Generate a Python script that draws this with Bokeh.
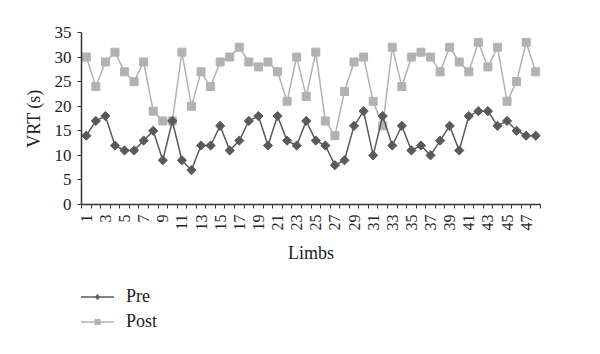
import math
from bokeh.plotting import figure
from bokeh.layouts import column
from bokeh.models import FixedTicker, Legend, LegendItem, Range1d
from bokeh.embed import file_html
from bokeh.resources import INLINE

limbs = list(range(1, 49))
pre = [14, 17, 18, 12, 11, 11, 13, 15, 9, 17, 9, 7, 12, 12, 16, 11, 13, 17, 18, 12,
       18, 13, 12, 17, 13, 12, 8, 9, 16, 19, 10, 18, 12, 16, 11, 12, 10, 13, 16, 11,
       18, 19, 19, 16, 17, 15, 14, 14]
post = [30, 24, 29, 31, 27, 25, 29, 19, 17, 17, 31, 20, 27, 24, 29, 30, 32, 29, 28, 29,
        27, 21, 30, 22, 31, 17, 14, 23, 29, 30, 21, 16, 32, 24, 30, 31, 30, 27, 32, 29,
        27, 33, 28, 32, 21, 25, 33, 27]
x_labels = [str(i) for i in range(1, 49, 2)]
y_ticks = [0, 5, 10, 15, 20, 25, 30, 35]
series_names = ["Pre", "Post"]

FONT = "Liberation Serif"
PRE_C = "#5a5a5a"
POST_C = "#b2b2b2"
TXT = "#222222"
AX = "#333333"

p = figure(width=600, height=270, output_backend="svg", toolbar_location=None,
           x_range=Range1d(0.5, 48.5), y_range=Range1d(0, 35),
           min_border_left=81, min_border_right=60, min_border_top=32,
           min_border_bottom=66)
p.outline_line_color = None
p.grid.visible = False

p.line(limbs, post, line_color=POST_C, line_width=1.5)
p.scatter(limbs, post, marker="square", size=8, fill_color=POST_C, line_color=POST_C)
p.line(limbs, pre, line_color=PRE_C, line_width=1.5)
p.scatter(limbs, pre, marker="square", size=6.5, angle=math.pi / 4,
          fill_color=PRE_C, line_color=PRE_C)

xa = p.xaxis[0]
xa.ticker = FixedTicker(ticks=list(range(1, 49, 2)),
                        minor_ticks=[i + 0.5 for i in range(0, 49)])
xa.major_label_overrides = {i: s for i, s in zip(range(1, 49, 2), x_labels)}
xa.major_label_orientation = math.pi / 2
xa.major_tick_in = 0
xa.major_tick_out = 0
xa.minor_tick_in = 0
xa.minor_tick_out = 4
xa.minor_tick_line_color = AX
xa.axis_line_color = AX
xa.axis_line_width = 1.5
xa.axis_label = "Limbs"
xa.axis_label_text_font = FONT
xa.axis_label_text_font_size = "18px"
xa.axis_label_text_font_style = "normal"
xa.axis_label_text_color = TXT
xa.axis_label_standoff = 9
xa.major_label_text_font = FONT
xa.major_label_text_font_size = "16px"
xa.major_label_text_color = TXT
xa.major_label_standoff = 6

ya = p.yaxis[0]
ya.ticker = FixedTicker(ticks=y_ticks)
ya.minor_tick_line_color = None
ya.major_tick_in = 0
ya.major_tick_out = 4
ya.major_tick_line_color = AX
ya.axis_line_color = AX
ya.axis_line_width = 1.5
ya.axis_label = "VRT (s)"
ya.axis_label_text_font = FONT
ya.axis_label_text_font_size = "18px"
ya.axis_label_text_font_style = "normal"
ya.axis_label_text_color = TXT
ya.axis_label_standoff = 8
ya.major_label_text_font = FONT
ya.major_label_text_font_size = "17px"
ya.major_label_text_color = TXT
ya.major_label_standoff = 6

# legend panel below the chart (its frame is aligned with the chart's frame)
q = figure(width=600, height=84, output_backend="svg", toolbar_location=None,
           x_range=Range1d(0, 1), y_range=Range1d(0, 1),
           x_axis_type=None, y_axis_type=None,
           min_border_left=0, min_border_right=0, min_border_top=0,
           min_border_bottom=0)
q.outline_line_color = None
q.grid.visible = False
# legend-only renderers with a point outside the visible range
ql_pre = q.line([-5, -4], [-5, -4], line_color=PRE_C, line_width=1.5)
qs_pre = q.scatter([-5], [-5], marker="diamond", size=7,
                   fill_color=PRE_C, line_color=PRE_C)
ql_post = q.line([-5, -4], [-5, -4], line_color=POST_C, line_width=1.5)
qs_post = q.scatter([-5], [-5], marker="square", size=5,
                    fill_color=POST_C, line_color=POST_C)

legend = Legend(items=[LegendItem(label=series_names[0], renderers=[ql_pre, qs_pre]),
                       LegendItem(label=series_names[1], renderers=[ql_post, qs_post])],
                orientation="vertical", location=(-1, 22),
                label_text_font=FONT, label_text_font_size="18px",
                label_text_color=TXT, label_height=13,
                glyph_width=34, glyph_height=13, spacing=4, padding=0,
                margin=0, label_standoff=12, border_line_color=None,
                background_fill_alpha=0)
q.add_layout(legend, "center")

layout = column(p, q, spacing=0)
open("out.html", "w").write(file_html(layout, INLINE))
